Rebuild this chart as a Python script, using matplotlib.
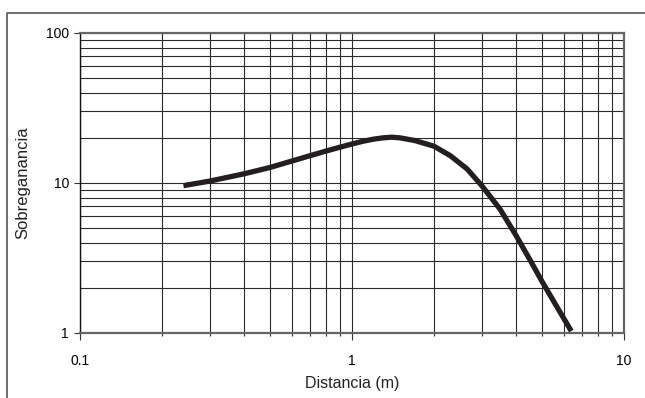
"""
Sobreganancia vs distancia (log-log)
"""
import numpy as np
import matplotlib
matplotlib.use("Agg")
import matplotlib.pyplot as plt
from matplotlib.lines import Line2D
from matplotlib.ticker import LogLocator, FixedLocator, FixedFormatter, NullFormatter

################################################################################
# Data
################################################################################
distancia     = [0.24, 0.3, 0.4, 0.5, 0.6, 0.7, 0.8, 0.9, 1.0, 1.1, 1.2, 1.3,
                 1.4, 1.5, 1.7, 2.0, 2.3, 2.65, 3.0, 3.5, 4.0, 4.5, 5.0, 5.6, 6.4]
sobreganancia = [9.6, 10.3, 11.5, 12.7, 14.0, 15.2, 16.3, 17.3, 18.2, 19.0, 19.6, 20.0,
                 20.2, 20.0, 19.2, 17.6, 15.2, 12.4, 9.6, 6.7, 4.5, 3.1, 2.2, 1.55, 1.03]

x_ticks       = [0.1, 1, 10]
x_tick_labels = ["0.1", "1", "10"]
y_ticks       = [1, 10, 100]
y_tick_labels = ["1", "10", "100"]

################################################################################
# Figure
################################################################################
plt.rcParams["font.family"] = ["Liberation Sans", "DejaVu Sans"]

W, H = 645, 398
fig = plt.figure(figsize = (W / 100, H / 100), dpi = 100)
ax  = fig.add_axes([80 / W, 1 - 333 / H, (624 - 80) / W, (333 - 33) / H])

ax.set_xscale("log")
ax.set_yscale("log")
ax.set_xlim(0.1, 10)
ax.set_ylim(1, 100)

ax.grid(True, which = "both", color = "#2a2a2a", lw = 0.8)
ax.set_axisbelow(True)

ax.plot(distancia, sobreganancia, color = "#231f20", lw = 3.8,
        solid_capstyle = "butt", solid_joinstyle = "round", zorder = 3)

########################################
# Ticks
########################################
ax.xaxis.set_major_locator(FixedLocator(x_ticks))
ax.xaxis.set_major_formatter(FixedFormatter(x_tick_labels))
ax.yaxis.set_major_locator(FixedLocator(y_ticks))
ax.yaxis.set_major_formatter(FixedFormatter(y_tick_labels))
ax.xaxis.set_minor_locator(LogLocator(base = 10, subs = np.arange(2, 10)))
ax.yaxis.set_minor_locator(LogLocator(base = 10, subs = np.arange(2, 10)))
ax.xaxis.set_minor_formatter(NullFormatter())
ax.yaxis.set_minor_formatter(NullFormatter())

ax.tick_params(axis = "x", which = "major", length = 5, width = 0.8,
               labelsize = 10, pad = 10, color = "#333")
ax.tick_params(axis = "x", which = "minor", length = 2, width = 0.8, color = "#333")
ax.tick_params(axis = "y", which = "major", length = 4, width = 0.8,
               labelsize = 10, pad = 4, color = "#333")
ax.tick_params(axis = "y", which = "minor", length = 0)

for side in ["top", "right", "bottom"]:
    ax.spines[side].set_color("#666666")
    ax.spines[side].set_linewidth(1.6)
ax.spines["left"].set_color("#111111")
ax.spines["left"].set_linewidth(1.0)

########################################
# Labels
########################################
ax.set_xlabel("Distancia (m)", fontsize = 11.5, color = "#222", labelpad = 6)
ax.set_ylabel("Sobreganancia", fontsize = 12, color = "#222", labelpad = 11)

########################################
# Outer frame (left and top edges only)
########################################
fx = 7 / W
fy = 1 - 12.5 / H
fig.add_artist(Line2D([fx, fx, 1], [0, fy, fy], transform = fig.transFigure,
                      color = "#555555", lw = 1.2))

fig.savefig("out.png", dpi = 100)
